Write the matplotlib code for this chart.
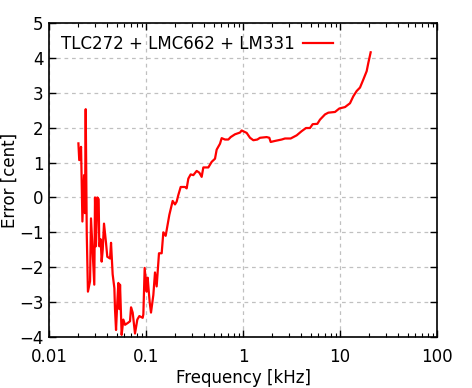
import matplotlib
matplotlib.use('Agg')
import matplotlib.pyplot as plt
from matplotlib.ticker import LogLocator, NullFormatter, FixedLocator

# frequency [kHz] and error [cent]
freq = [0.0201, 0.0205, 0.0214, 0.0221, 0.0230, 0.0235, 0.0239, 0.0245, 0.0252, 0.0265,
        0.0271, 0.0293, 0.0298, 0.0305, 0.0315, 0.0325, 0.0330, 0.0341, 0.0349, 0.0358,
        0.0369, 0.0387, 0.0399, 0.0426, 0.0436, 0.0453, 0.0472, 0.0479, 0.0491, 0.0506,
        0.0519, 0.0531, 0.0540, 0.0561, 0.0584, 0.0608, 0.0647, 0.0684, 0.0701, 0.0729,
        0.0770, 0.0814, 0.0854, 0.0924, 0.0939, 0.0969, 0.1016, 0.1040, 0.1091, 0.1126,
        0.1190, 0.1238, 0.1288, 0.1361, 0.1451, 0.1509, 0.1595, 0.1740, 0.1883, 0.1991,
        0.2071, 0.2154, 0.2278, 0.2524, 0.2626, 0.2732, 0.2887, 0.3076, 0.3330, 0.3546,
        0.3749, 0.3899, 0.4392, 0.4753, 0.5144, 0.5352, 0.5793, 0.6027, 0.6522, 0.7060,
        0.7463, 0.8269, 0.9313, 0.9689, 1.091, 1.181, 1.278, 1.405, 1.497, 1.754,
        1.868, 1.929, 2.138, 2.504, 2.710, 3.100, 3.575, 4.025, 4.462, 4.906,
        5.226, 5.839, 6.220, 7.006, 7.580, 8.883, 9.842, 11.26, 12.68, 13.72,
        14.85, 16.08, 17.40, 18.84, 19.60, 20.71]
error = [1.55, 1.07, 1.45, -0.69, 0.64, -0.45, 2.53, -1.02, -2.70, -2.40,
         -0.60, -2.50, 0.00, -1.40, 0.00, -0.05, -1.40, -1.20, -1.84, -1.50,
         -0.75, -1.30, -1.70, -1.75, -1.30, -2.20, -2.60, -3.20, -3.80, -3.00,
         -2.45, -3.20, -2.50, -3.94, -3.50, -3.65, -3.60, -3.55, -3.15, -3.30,
         -3.90, -3.50, -3.40, -3.45, -3.35, -2.02, -2.70, -2.30, -3.00, -3.30,
         -2.80, -2.15, -2.55, -1.60, -1.60, -1.00, -1.10, -0.50, -0.10, -0.20,
         -0.12, 0.07, 0.30, 0.30, 0.26, 0.54, 0.66, 0.64, 0.76, 0.71,
         0.59, 0.86, 0.86, 1.02, 1.11, 1.37, 1.54, 1.70, 1.66, 1.66,
         1.73, 1.81, 1.86, 1.92, 1.85, 1.71, 1.64, 1.66, 1.71, 1.73,
         1.71, 1.59, 1.62, 1.66, 1.69, 1.69, 1.78, 1.90, 1.99, 1.99,
         2.10, 2.11, 2.23, 2.38, 2.43, 2.45, 2.55, 2.59, 2.70, 2.90,
         3.05, 3.15, 3.38, 3.62, 3.86, 4.16]

x_ticks = [0.01, 0.1, 1, 10, 100]
x_labels = ['0.01', '0.1', '1', '10', '100']
y_ticks = [-4, -3, -2, -1, 0, 1, 2, 3, 4, 5]

fig = plt.figure(figsize=(4.72, 3.88), dpi=100)
ax = fig.add_axes([49 / 472, 1 - 337 / 388, 388 / 472, 314 / 388])

ax.plot(freq, error, color='red', linewidth=1.6, label='TLC272 + LMC662 + LM331')

ax.set_xscale('log')
ax.set_xlim(0.01, 100)
ax.set_ylim(-4, 5)
ax.xaxis.set_major_locator(FixedLocator(x_ticks))
ax.set_xticklabels(x_labels)
ax.xaxis.set_minor_locator(LogLocator(base=10, subs=range(2, 10)))
ax.xaxis.set_minor_formatter(NullFormatter())
ax.set_yticks(y_ticks)

ax.grid(True, which='major', color='#c0c0c0', linestyle=(0, (3, 3)), linewidth=0.9)
ax.tick_params(which='both', direction='in', top=True, right=True, labelsize=12)
ax.tick_params(axis='x', pad=8)
ax.tick_params(axis='y', pad=4)
ax.tick_params(which='major', length=5, width=1)
ax.tick_params(which='minor', length=3, width=0.8)
for sp in ax.spines.values():
    sp.set_linewidth(1.2)

ax.set_xlabel('Frequency [kHz]', fontsize=12, labelpad=2)
ax.set_ylabel('Error [cent]', fontsize=12, labelpad=0)

ax.legend(loc='upper left', frameon=False, fontsize=12, markerfirst=False,
          handlelength=1.8, handletextpad=0.5, borderaxespad=0.3)

fig.savefig('out.png', dpi=100)
